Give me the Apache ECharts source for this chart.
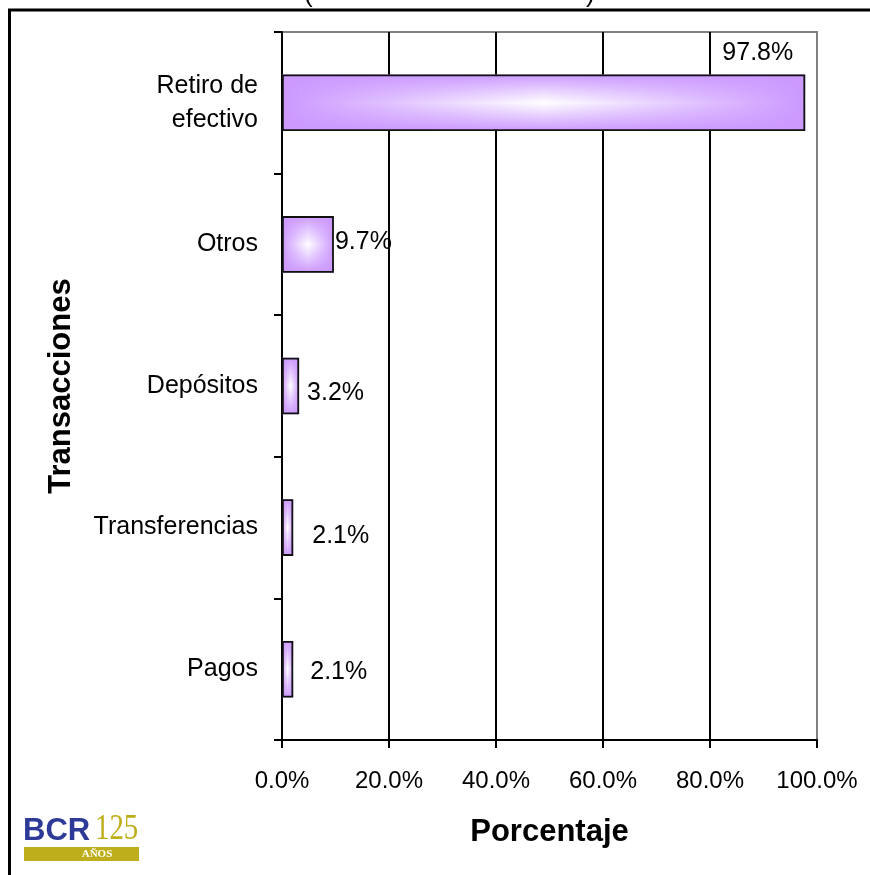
<!DOCTYPE html>
<html>
<head>
<meta charset="utf-8">
<script src="https://cdn.jsdelivr.net/npm/echarts@6/dist/echarts.min.js"></script>
<style>
html,body{margin:0;padding:0;background:#fff;}
#chart{width:870px;height:875px;}
</style>
</head>
<body>
<div id="chart"></div>
<script>
// ---- data ----
const categories = ['Retiro de\nefectivo', 'Otros', 'Depósitos', 'Transferencias', 'Pagos'];
const values = [97.8, 9.7, 3.2, 2.1, 2.1];
const xTicks = [0, 20, 40, 60, 80, 100];
const xAxisTitle = 'Porcentaje';
const yAxisTitle = 'Transacciones';

// ---- label placement styles (not data) ----
const labelStyles = [
  { position: ['100%', 0], align: 'right', verticalAlign: 'bottom', offset: [-12, -9] },
  { position: 'right', distance: 1, offset: [0, -2] },
  { position: 'right', distance: 8, offset: [0, 7] },
  { position: 'right', distance: 19, offset: [0, 9] },
  { position: 'right', distance: 17, offset: [0, 3] }
];

const PURPLE = '#CC99FF';
const FONT = 'Liberation Sans, Arial, sans-serif';

const chart = echarts.init(document.getElementById('chart'), null, { renderer: 'canvas' });

const option = {
  backgroundColor: '#ffffff',
  animation: false,
  textStyle: { fontFamily: FONT, color: '#000' },
  grid: {
    left: 282, right: 53, top: 32, bottom: 135,
    show: true, borderColor: '#808080', borderWidth: 2, backgroundColor: 'transparent'
  },
  xAxis: {
    type: 'value',
    min: xTicks[0],
    max: xTicks[xTicks.length - 1],
    interval: xTicks[1] - xTicks[0],
    axisLine: { show: true, onZero: false, lineStyle: { color: '#000', width: 2 } },
    axisTick: { show: true, length: 8, lineStyle: { color: '#000', width: 2 } },
    axisLabel: {
      fontSize: 24, color: '#000', fontFamily: FONT, margin: 29,
      formatter: v => v.toFixed(1) + '%'
    },
    splitLine: { show: true, showMinLine: false, showMaxLine: false, lineStyle: { color: '#000', width: 2 } },
    name: xAxisTitle,
    nameLocation: 'middle',
    nameGap: 77,
    nameTextStyle: { fontSize: 31, fontWeight: 'bold', color: '#000', fontFamily: FONT }
  },
  yAxis: {
    type: 'category',
    inverse: true,
    data: categories,
    axisLine: { show: true, lineStyle: { color: '#000', width: 2 } },
    axisTick: { show: true, length: 8, lineStyle: { color: '#000', width: 2 } },
    axisLabel: { fontSize: 25, color: '#000', fontFamily: FONT, margin: 24, lineHeight: 34 },
    splitLine: { show: false },
    name: yAxisTitle,
    nameLocation: 'middle',
    nameGap: 205,
    nameTextStyle: { fontSize: 31, fontWeight: 'bold', color: '#000', fontFamily: FONT }
  },
  series: [
    {
      type: 'bar',
      silent: true,
      barCategoryGap: '60%',
      barGap: '-100%',
      data: values,
      itemStyle: {
        color: {
          type: 'linear', x: 0, y: 0, x2: 0, y2: 1,
          colorStops: [
            { offset: 0, color: PURPLE },
            { offset: 0.5, color: '#FFFFFF' },
            { offset: 1, color: PURPLE }
          ]
        }
      },
      label: { show: false }
    },
    {
      type: 'bar',
      barCategoryGap: '60%',
      barGap: '-100%',
      data: values.map((v, i) => ({ value: v, label: labelStyles[i] })),
      itemStyle: {
        borderColor: '#111',
        borderWidth: 1.8,
        color: {
          type: 'linear', x: 0, y: 0, x2: 1, y2: 0,
          colorStops: [
            { offset: 0, color: 'rgba(204,153,255,1)' },
            { offset: 0.5, color: 'rgba(204,153,255,0)' },
            { offset: 1, color: 'rgba(204,153,255,1)' }
          ]
        }
      },
      label: {
        show: true,
        fontSize: 25,
        color: '#000',
        fontFamily: FONT,
        formatter: p => values[p.dataIndex].toFixed(1) + '%'
      }
    }
  ],
  graphic: [
    // outer chart frame
    {
      type: 'rect', silent: true, z: 100,
      shape: { x: 9.5, y: 10, width: 900, height: 900 },
      style: { fill: 'none', stroke: '#000', lineWidth: 3 }
    },
    // remnant of the cut-off title
    { type: 'text', left: 304, top: -18, silent: true,
      style: { text: '(', fontSize: 26, fontFamily: FONT, fill: '#000' } },
    { type: 'text', left: 586, top: -18, silent: true,
      style: { text: ')', fontSize: 26, fontFamily: FONT, fill: '#000' } },
    // BCR 125 logo
    { type: 'rect', silent: true, shape: { x: 24, y: 847, width: 115, height: 14 },
      style: { fill: '#BFAE1B' } },
    { type: 'text', x: 23, y: 816, silent: true,
      style: { text: 'BCR', font: 'bold 31px Liberation Sans', fill: '#2E3A97' } },
    { type: 'text', x: 95, y: 812, silent: true, scaleX: 0.8,
      style: { text: '125', font: '36px Liberation Serif', fill: '#BFAE1B' } },
    { type: 'text', x: 97, y: 854, silent: true,
      style: { text: 'AÑOS', font: 'bold 11px Liberation Serif', fill: '#FFFFFF',
               align: 'center', verticalAlign: 'middle' } }
  ]
};

chart.setOption(option);
</script>
</body>
</html>
